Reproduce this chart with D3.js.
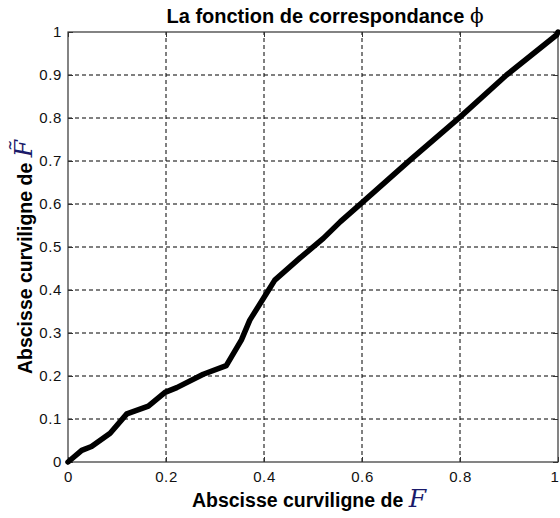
<!DOCTYPE html>
<html><head><meta charset="utf-8">
<script src="https://cdn.jsdelivr.net/npm/d3@7"></script>
<style>body{margin:0;background:#fff}svg{display:block}</style>
</head><body>
<script>
const xVals = [0, 0.028, 0.048, 0.086, 0.12, 0.164, 0.198, 0.222, 0.276, 0.323, 0.354, 0.371, 0.405, 0.422, 0.473, 0.521, 0.556, 0.599, 0.698, 0.800, 0.895, 0.997, 1];
const yVals = [0, 0.027, 0.036, 0.067, 0.112, 0.130, 0.162, 0.173, 0.204, 0.224, 0.284, 0.330, 0.392, 0.423, 0.474, 0.520, 0.559, 0.602, 0.702, 0.802, 0.900, 0.993, 1];
const xTicks = [0, 0.2, 0.4, 0.6, 0.8, 1];
const yTicks = [0, 0.1, 0.2, 0.3, 0.4, 0.5, 0.6, 0.7, 0.8, 0.9, 1];
const titleText = "La fonction de correspondance ";
const titleSymbol = "\u03D5";
const xLabelText = "Abscisse curviligne de ";
const yLabelText = "Abscisse curviligne de ";

const W = 560, H = 518;
const m = {left: 68, right: 2, top: 32, bottom: 56};
const svg = d3.select("body").append("svg").attr("width", W).attr("height", H);
const x = d3.scaleLinear().domain([0, 1]).range([m.left, W - m.right]);
const y = d3.scaleLinear().domain([0, 1]).range([H - m.bottom, m.top]);
const sans = "Arial, 'Liberation Sans', sans-serif";
const serif = "'DejaVu Serif', 'Liberation Serif', serif";

// grid
const g = svg.append("g");
g.selectAll(".gx").data(xTicks.slice(1, -1)).join("line")
  .attr("x1", d => x(d)).attr("x2", d => x(d)).attr("y1", y(0)).attr("y2", y(1))
  .attr("stroke", "#000").attr("stroke-width", 1).attr("stroke-dasharray", "4,3");
g.selectAll(".gy").data(yTicks.slice(1, -1)).join("line")
  .attr("x1", x(0)).attr("x2", x(1)).attr("y1", d => y(d)).attr("y2", d => y(d))
  .attr("stroke", "#000").attr("stroke-width", 1).attr("stroke-dasharray", "4,3");

// axes
const fmt = d => d3.format("")(d);
const xAxis = svg.append("g").attr("transform", `translate(0,${y(0)})`)
  .call(d3.axisBottom(x).tickValues(xTicks).tickFormat(fmt).tickSizeInner(-5).tickSizeOuter(0).tickPadding(9));
const yAxis = svg.append("g").attr("transform", `translate(${x(0)},0)`)
  .call(d3.axisLeft(y).tickValues(yTicks).tickFormat(fmt).tickSizeInner(-5).tickSizeOuter(0).tickPadding(6));
[xAxis, yAxis].forEach(a => {
  a.select(".domain").remove();
  a.selectAll("line").attr("stroke", "#333");
  a.selectAll("text").attr("font-family", sans).attr("font-size", 15).attr("letter-spacing", 0.6).attr("fill", "#111");
});
xAxis.selectAll(".tick").filter(d => d === 1).select("text").attr("text-anchor", "end").attr("dx", 1);
// top & right ticks
svg.append("g").attr("transform", `translate(0,${y(1)})`)
  .call(d3.axisTop(x).tickValues(xTicks).tickFormat("").tickSizeInner(-5).tickSizeOuter(0))
  .call(a => { a.select(".domain").remove(); a.selectAll("line").attr("stroke", "#333"); });
svg.append("g").attr("transform", `translate(${x(1)},0)`)
  .call(d3.axisRight(y).tickValues(yTicks).tickFormat("").tickSizeInner(-5).tickSizeOuter(0))
  .call(a => { a.select(".domain").remove(); a.selectAll("line").attr("stroke", "#333"); });

// box
svg.append("rect").attr("x", x(0)).attr("y", y(1)).attr("width", x(1) - x(0)).attr("height", y(0) - y(1))
  .attr("fill", "none").attr("stroke", "#333").attr("stroke-width", 1.2);

// curve
const pts = xVals.map((v, i) => [v, yVals[i]]);
svg.append("path").datum(pts)
  .attr("d", d3.line().x(d => x(d[0])).y(d => y(d[1])))
  .attr("fill", "none").attr("stroke", "#000").attr("stroke-width", 5.5)
  .attr("stroke-linejoin", "round").attr("stroke-linecap", "round");

// title
const tt = svg.append("text").attr("x", 325).attr("y", 23).attr("text-anchor", "middle")
  .attr("font-family", sans).attr("font-size", 20).attr("font-weight", "bold");
tt.append("tspan").text(titleText);
tt.append("tspan").attr("font-family", serif).attr("font-weight", "normal").text(titleSymbol);

// x label
const xl = svg.append("text").attr("x", 309).attr("y", 507).attr("text-anchor", "middle")
  .attr("font-family", sans).attr("font-size", 19.5).attr("font-weight", "bold");
xl.append("tspan").text(xLabelText);
xl.append("tspan").attr("font-family", serif).attr("font-style", "italic")
  .attr("font-weight", "normal").attr("font-size", 25).attr("fill", "#1a1a6a").text("F");

// y label
const yl = svg.append("text").attr("transform", `translate(32,257) rotate(-90)`).attr("text-anchor", "middle")
  .attr("font-family", sans).attr("font-size", 19.5).attr("font-weight", "bold");
yl.append("tspan").text(yLabelText);
yl.append("tspan").attr("font-family", serif).attr("font-style", "italic")
  .attr("font-weight", "normal").attr("font-size", 25).attr("fill", "#1a1a6a").text("F\u0303");
</script>
</body></html>
